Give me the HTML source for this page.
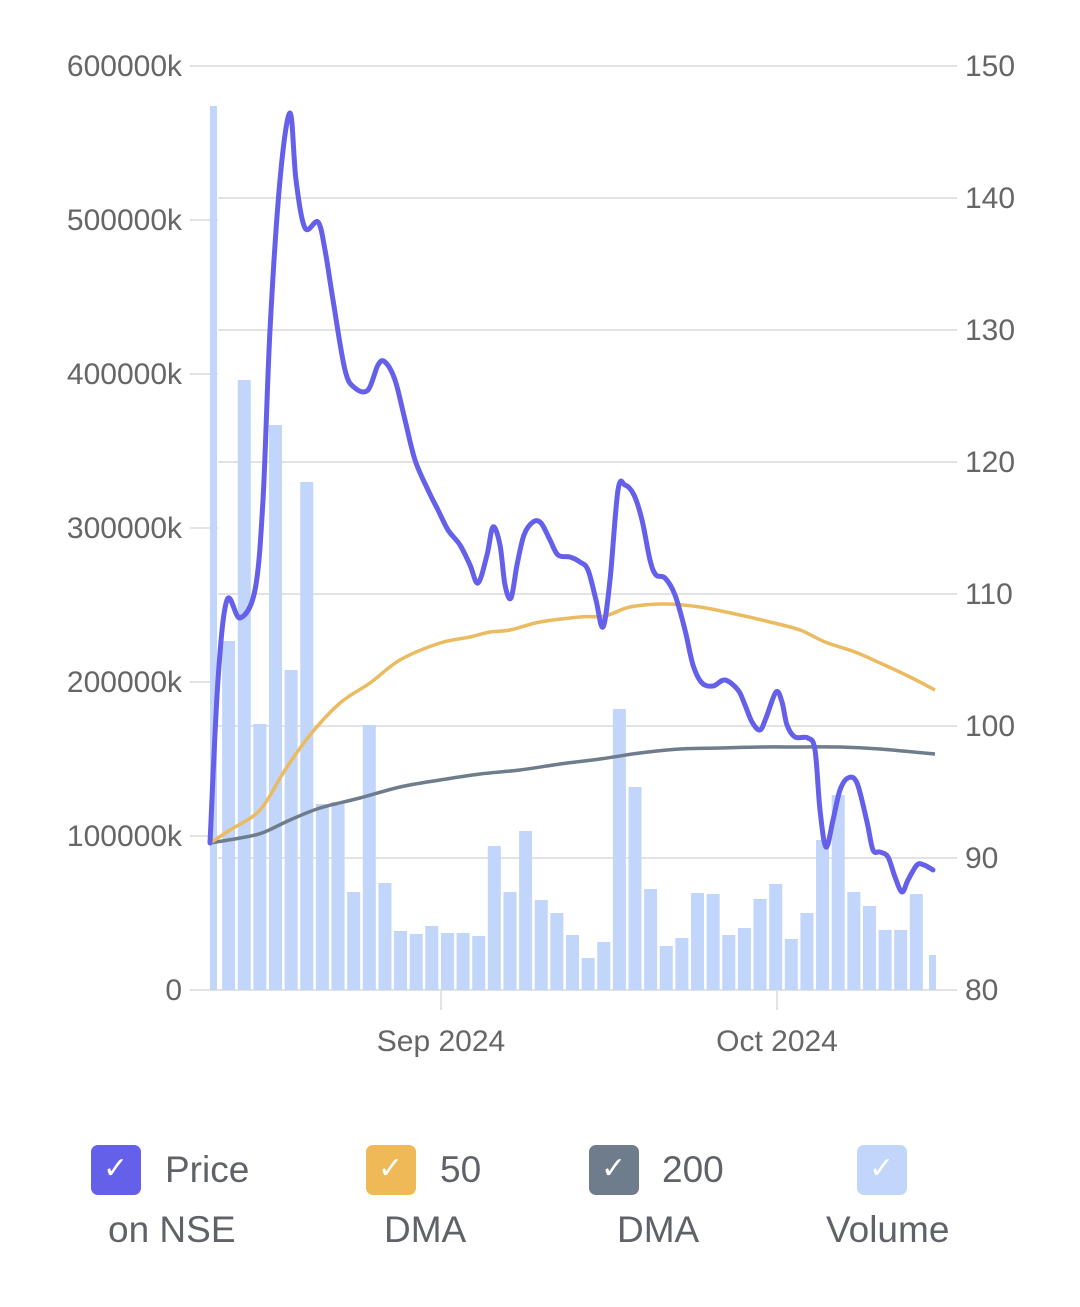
<!DOCTYPE html>
<html><head><style>
body{margin:0;background:#fff;width:1080px;height:1307px;overflow:hidden;font-family:"Liberation Sans",sans-serif}
.lg{position:absolute;font-size:37px;color:#5f6368;text-align:center;line-height:46px}
.bx{position:absolute;width:50px;height:50px;border-radius:7px;top:1145px}
</style></head><body>
<svg width="1080" height="1307" style="position:absolute;left:0;top:0">
<g stroke="#e3e3e3" stroke-width="2">
<line x1="190" x2="957" y1="66" y2="66"/><line x1="190" x2="218" y1="220" y2="220"/><line x1="218" x2="957" y1="198" y2="198"/>
<line x1="218" x2="957" y1="330" y2="330"/><line x1="190" x2="218" y1="374" y2="374"/><line x1="218" x2="957" y1="462" y2="462"/>
<line x1="190" x2="218" y1="528" y2="528"/><line x1="218" x2="957" y1="594" y2="594"/><line x1="190" x2="218" y1="682" y2="682"/>
<line x1="218" x2="957" y1="726" y2="726"/><line x1="190" x2="218" y1="836" y2="836"/><line x1="218" x2="957" y1="858" y2="858"/>
<line x1="190" x2="957" y1="990" y2="990"/><line x1="441" x2="441" y1="990" y2="1010"/><line x1="777" x2="777" y1="990" y2="1010"/>
</g>
<g fill="#c2d5fa" id="bars"></g>
<g font-size="30" fill="#666">
<text x="182" y="76" text-anchor="end">600000k</text><text x="182" y="230" text-anchor="end">500000k</text>
<text x="182" y="384" text-anchor="end">400000k</text><text x="182" y="538" text-anchor="end">300000k</text>
<text x="182" y="692" text-anchor="end">200000k</text><text x="182" y="846" text-anchor="end">100000k</text>
<text x="182" y="1000" text-anchor="end">0</text>
<text x="965" y="76">150</text><text x="965" y="208">140</text><text x="965" y="340">130</text><text x="965" y="472">120</text>
<text x="965" y="604">110</text><text x="965" y="736">100</text><text x="965" y="868">90</text><text x="965" y="1000">80</text>
<text x="441" y="1051" text-anchor="middle">Sep 2024</text><text x="777" y="1051" text-anchor="middle">Oct 2024</text>
</g>
<path id="l200" fill="none" stroke="#6e7c8c" stroke-width="3.5"/>
<path id="l50" fill="none" stroke="#ebbb62" stroke-width="3.5"/>
<path id="lp" fill="none" stroke="#6560ea" stroke-width="5" stroke-linejoin="round" stroke-linecap="round"/>
</svg>
<div class="bx" style="left:91px;background:#6560ea"></div>
<div class="bx" style="left:366px;background:#efb957"></div>
<div class="bx" style="left:589px;background:#6e7c8c"></div>
<div class="bx" style="left:857px;background:#c2d5fa"></div>
<div style="position:absolute;top:1145px;left:0;font-size:30px;color:#fff">
<span style="position:absolute;left:103px;top:6px">✓</span><span style="position:absolute;left:378px;top:6px">✓</span><span style="position:absolute;left:601px;top:6px">✓</span><span style="position:absolute;left:869px;top:6px">✓</span></div>
<div class="lg" style="left:165px;top:1147px;text-align:left">Price</div><div class="lg" style="left:108px;top:1207px;text-align:left">on NSE</div>
<div class="lg" style="left:440px;top:1147px;text-align:left">50</div><div class="lg" style="left:384px;top:1207px;text-align:left">DMA</div>
<div class="lg" style="left:662px;top:1147px;text-align:left">200</div><div class="lg" style="left:617px;top:1207px;text-align:left">DMA</div>
<div class="lg" style="left:826px;top:1207px;text-align:left">Volume</div>
<script>
var t=[106,641,380,724,425,670,482,804,802,892,725,883,931,934,926,933,933,936,846,892,831,900,913,935,958,942,709,787,889,946,938,893,894,935,928,899,884,939,913,840,795,892,906,930,930,894,955];
var g=document.getElementById('bars'),s='';
for(var i=0;i<t.length;i++){var c=213+i*15.63,x=c-6.5,w=13;if(i==0){x=210;w=7}if(i==46){x=929;w=7}
s+='<rect x="'+x+'" y="'+t[i]+'" width="'+w+'" height="'+(990-t[i])+'"/>';}
g.innerHTML=s;
function sm(str){var a=str.trim().split(/\s+/).map(function(p){return p.split(',').map(Number)});
var d='M'+a[0][0]+','+a[0][1];
for(var i=0;i<a.length-1;i++){var p0=a[Math.max(i-1,0)],p1=a[i],p2=a[i+1],p3=a[Math.min(i+2,a.length-1)];
d+=' C'+(p1[0]+(p2[0]-p0[0])/6)+','+(p1[1]+(p2[1]-p0[1])/6)+' '+(p2[0]-(p3[0]-p1[0])/6)+','+(p2[1]-(p3[1]-p1[1])/6)+' '+p2[0]+','+p2[1];}
return d;}
document.getElementById('l200').setAttribute('d',sm("210,843 240,838 262,833 290,820 320,808 360,798 400,787 440,780 480,774 520,770 560,764 600,759 640,753 680,749 720,748 760,747 800,747 840,747 880,749 935,754"));
document.getElementById('l50').setAttribute('d',sm("210,843 230,830 260,810 285,770 310,735 340,703 370,683 400,660 440,643 470,637 490,632 510,630 540,622 580,617 605,616 630,607 665,604 700,607 740,615 770,622 800,630 825,642 855,652 880,663 910,677 935,690"));
document.getElementById('lp').setAttribute('d',sm("210,843 218,680 227,600 240,618 255,590 263,500 270,330 280,180 290,113 296,180 305,228 318,222 325,250 333,300 345,370 355,388 368,390 378,365 385,362 395,380 405,420 415,460 428,490 438,510 448,530 460,545 470,565 478,583 487,555 493,527 500,545 505,585 511,598 517,565 524,535 533,522 541,523 550,540 558,555 570,557 580,562 588,570 596,600 603,627 610,580 618,490 625,485 634,495 642,520 650,560 656,575 665,578 675,595 685,630 693,665 702,683 713,686 725,680 738,690 745,705 752,722 760,730 766,718 776,692 782,702 787,725 795,737 808,738 815,750 820,810 826,847 833,820 840,790 848,778 857,783 867,822 873,850 880,852 888,857 895,877 902,892 908,880 917,865 924,865 933,870"));
</script>
</body></html>
